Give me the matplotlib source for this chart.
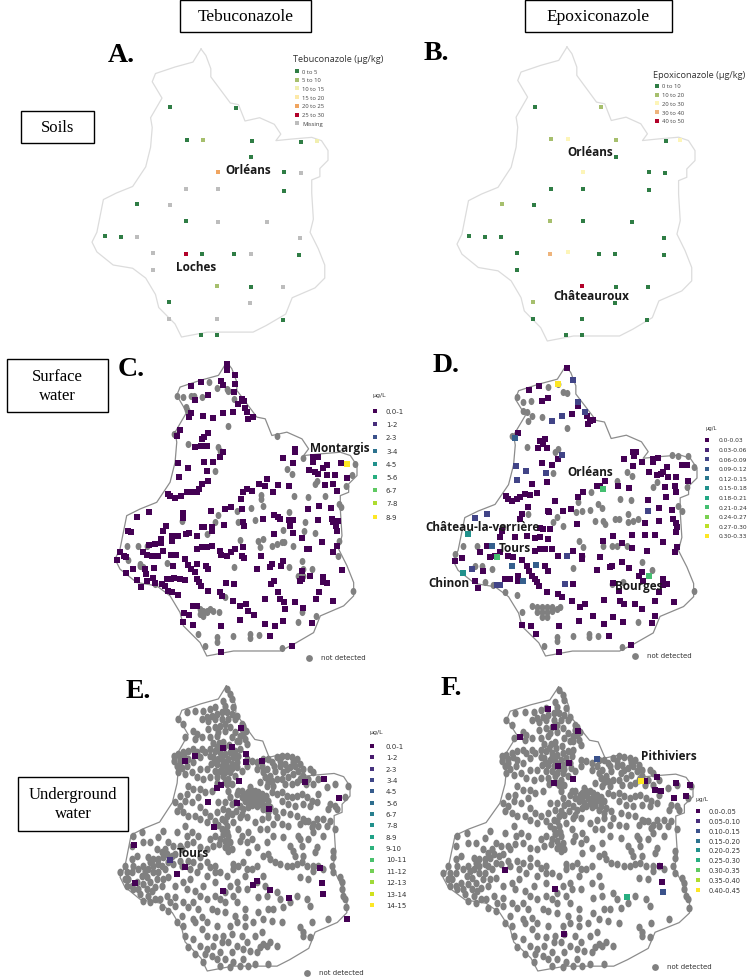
import matplotlib
matplotlib.use('Agg')
import matplotlib.pyplot as plt
from matplotlib.markers import MarkerStyle
from matplotlib.patches import Rectangle
from matplotlib.transforms import Affine2D

REGION = [(380,40),(395,60),(410,100),(410,125),(440,165),(470,205),(495,210),(515,260),(560,250),(605,270),(625,300),
          (610,320),(660,315),(720,310),(750,320),(770,350),(770,380),(745,405),(745,430),(720,440),(720,480),(725,560),
          (715,600),(740,650),(760,700),(760,740),(730,770),(660,800),(640,850),(580,885),(540,905),(470,905),(400,905),
          (320,920),(300,880),(250,830),(240,790),(210,740),(170,710),(110,700),(60,660),(45,630),(60,600),(80,500),
          (120,480),(170,460),(210,400),(225,340),(230,280),(225,250),(260,190),(230,140),(240,115),(300,95),(355,80),(380,40)]

SOIL_COLORS = ['#2f7d45', '#a6bf6d', '#f1efb0', '#fde9a8', '#f0a560', '#b2022a', '#bdbdbd']
SOIL_A_LABELS = ['0 to 5', '5 to 10', '10 to 15', '15 to 20', '20 to 25', '25 to 30', 'Missing']
SOIL_B_LABELS = ['0 to 10', '10 to 20', '20 to 30', '30 to 40', '40 to 50']
SOIL_B_COLORS = ['#2f7d45', '#a6bf6d', '#fdf5b8', '#eeb47c', '#b2022a']

A_POINTS = {
    0: [(241,235),(437,236),(290,332),(485,336),(632,338),(484,384),(582,429),(582,485),(141,526),(287,577),(44,622),
        (92,624),(335,675),(433,676),(628,677),(484,773),(236,820),(578,872),(333,919),(382,919)],
    1: [(338,332),(380,770)],
    2: [(680,335)],
    4: [(385,429)],
    5: [(287,675)],
    6: [(632,433),(288,480),(385,480),(239,527),(385,578),(532,579),(140,624),(629,628),(189,673),(482,676),(189,722),
        (578,774),(480,822),(236,869),(382,870)],
}
B_POINTS = {
    0: [(345,234),(737,337),(587,383),(686,428),(736,433),(392,479),(489,480),(686,484),(342,527),(489,577),(636,578),
        (147,622),(195,624),(243,624),(733,628),(292,673),(537,675),(586,676),(733,677),(291,722),(588,774),(683,775),
        (584,822),(339,870),(486,871),(682,872),(437,919),(486,919)],
    1: [(542,234),(393,331),(589,334),(245,526),(390,577),(339,820)],
    2: [(443,331),(781,334),(489,428),(443,670)],
    3: [(390,675)],
    4: [(485,770)],
}

C_LABELS = ['0.0-1', '1-2', '2-3', '3-4', '4-5', '5-6', '6-7', '7-8', '8-9']
D_LABELS = ['0.0-0.03', '0.03-0.06', '0.06-0.09', '0.09-0.12', '0.12-0.15', '0.15-0.18', '0.18-0.21', '0.21-0.24',
            '0.24-0.27', '0.27-0.30', '0.30-0.33']
E_LABELS = ['0.0-1', '1-2', '2-3', '3-4', '4-5', '5-6', '6-7', '7-8', '8-9', '9-10', '10-11', '11-12', '12-13',
            '13-14', '14-15']
F_LABELS = ['0.0-0.05', '0.05-0.10', '0.10-0.15', '0.15-0.20', '0.20-0.25', '0.25-0.30', '0.30-0.35', '0.35-0.40',
            '0.40-0.45']

C_GREY = [(232,140),(250,145),(272,140),(283,140),(305,145),(327,100),(352,118),(380,120),(385,125),(403,150),(258,175),
          (262,182),(383,230),(222,255),(265,285),(355,295),(360,305),(345,365),(530,262),(608,327),(560,360),(575,375),
          (652,395),(645,405),(738,410),(765,345),(755,378),(482,437),(482,450),(490,470),(582,442),(623,445),(675,440),
          (718,465),(722,475),(410,487),(452,478),(355,497),(345,520),(320,555),(245,515),(415,520),(465,512),(568,490),
          (615,518),(550,543),(613,545),(645,552),(420,572),(475,575),(490,570),(480,595),(515,590),(530,585),(545,580),
          (553,578),(578,590),(115,592),(140,592),(80,590),(85,632),(120,650),(128,655),(200,642),(403,655),(605,635),
          (610,660),(635,660),(567,655),(595,680),(610,680),(715,620),(718,575),(760,725),(375,745),(300,780),(310,785),
          (320,785),(330,780),(340,785),(300,795),(310,800),(320,790),(358,790),(605,790),(647,802),(595,818),(293,855),
          (315,890),(350,865),(352,880),(400,860),(450,855),(450,868),(477,858),(545,898),(165,705),(120,645)]
C_POINTS = {
    0: [(381,45),(381,62),(404,78),(404,105),(363,95),(368,108),(302,98),(272,110),(403,130),(325,138),(284,152),(425,150),
        (432,155),(415,165),(435,178),(440,190),(445,210),(458,205),(398,190),(370,192),(340,207),(310,200),(268,205),
        (272,192),(240,243),(232,260),(323,253),(313,265),(305,270),(322,290),(304,290),(285,295),(370,310),(360,325),
        (235,343),(311,338),(338,340),(265,358),(322,365),(238,385),(325,397),(305,405),(298,420),(290,430),(275,430),
        (260,428),(243,440),(225,448),(210,440),(205,435),(585,300),(585,308),(550,326),(580,343),(640,325),(655,323),
        (640,340),(722,342),(680,348),(670,358),(655,375),(645,370),(628,362),(680,378),(705,378),(742,388),(700,405),
        (675,408),(710,425),(500,390),(495,410),(478,405),(535,408),(568,412),(518,428),(455,425),(440,420),(430,430),
        (422,450),(658,470),(623,480),(692,476),(655,513),(697,510),(700,520),(715,515),(708,530),(710,545),(665,578),
        (712,590),(700,608),(725,662),(333,485),(375,480),(393,475),(427,480),(248,492),(248,508),(110,505),(148,490),
        (428,520),(433,530),(372,528),(305,535),(312,535),(335,535),(335,545),(198,530),(188,545),(183,570),(183,582),
        (215,560),(215,575),(235,562),(258,555),(268,553),(290,562),(85,545),(92,550),(488,510),(523,497),(535,505),
        (540,510),(568,512),(578,512),(570,530),(578,552),(522,556),(605,567),(620,600),(628,600),(165,585),(148,588),
        (128,608),(140,618),(155,620),(175,620),(190,605),(60,610),(50,632),(72,620),(78,625),(212,618),(228,618),
        (290,600),(305,595),(320,593),(335,590),(360,605),(362,618),(380,620),(392,610),(405,600),(430,595),(425,620),
        (432,628),(482,620),(255,630),(265,648),(272,660),(285,670),(290,690),(298,700),(302,710),(292,645),(318,650),
        (325,660),(220,650),(162,657),(100,660),(135,660),(138,675),(78,672),(160,688),(200,690),(212,690),(222,688),
        (240,690),(255,692),(112,692),(140,697),(165,703),(185,705),(195,712),(203,725),(215,728),(233,737),(122,715),
        (470,660),(510,655),(515,645),(550,635),(542,650),(605,665),(630,680),(605,690),(600,695),(523,695),(513,705),
        (378,703),(403,705),(668,685),(668,700),(680,703),(323,725),(360,730),(365,742),(535,730),(657,730),(648,750),
        (700,757),(495,750),(540,750),(552,760),(555,780),(585,760),(608,778),(400,757),(420,770),(437,765),(443,785),
        (462,797),(278,772),(292,772),(252,792),(268,798),(278,828),(248,820),(363,830),(420,813),(495,825),(525,830),
        (550,817),(510,860),(637,822),(575,890),(362,910)],
    8: [(741,345)],
}

D_GREY = [(415,105),(430,130),(442,133),(310,185),(320,190),(335,200),(365,205),(325,215),(440,238),(275,260),(320,293),
          (415,300),(405,310),(398,372),(620,370),(635,382),(590,395),(710,400),(700,415),(800,415),(822,355),(755,318),
          (775,320),(805,322),(512,430),(535,465),(545,478),(600,450),(633,453),(775,470),(785,485),(475,460),(485,487),
          (468,490),(510,482),(525,515),(548,515),(555,525),(585,510),(598,510),(625,495),(625,520),(640,515),(655,510),
          (430,532),(410,505),(400,520),(325,495),(250,535),(478,575),(488,595),(548,590),(575,590),(590,590),(665,640),
          (697,662),(620,590),(130,590),(170,590),(105,615),(165,650),(185,650),(215,660),(195,700),(220,708),(460,657),
          (575,705),(610,700),(290,738),(255,730),(335,772),(350,775),(365,775),(380,775),(395,775),(350,790),(365,790),
          (380,790),(395,785),(365,805),(380,805),(410,780),(420,775),(305,790),(485,620),(822,725),(655,820),(460,860),
          (508,855),(508,865),(535,860),(410,865),(410,875),(372,890),(605,895),(290,145),(308,160),(333,155),(385,115)]
D_POINTS = {
    0: [(440,58),(358,110),(328,122),(385,148),(365,155),(475,170),(455,195),(500,200),(510,215),(518,212),(505,225),
        (295,253),(375,270),(360,275),(370,285),(355,298),(382,297),(415,330),(397,347),(367,343),(640,310),(648,310),
        (643,322),(612,330),(640,352),(665,338),(700,330),(715,328),(698,340),(785,348),(800,348),(687,368),(710,378),
        (722,375),(730,368),(740,355),(745,385),(767,385),(735,415),(765,410),(768,430),(803,395),(555,395),(530,412),
        (540,412),(595,410),(627,418),(335,405),(380,400),(350,432),(330,438),(315,435),(300,445),(290,450),(275,455),
        (265,450),(258,442),(490,430),(475,445),(683,452),(738,445),(405,457),(325,475),(305,495),(300,510),(385,485),
        (388,490),(430,485),(452,480),(718,478),(755,483),(717,517),(675,522),(758,510),(768,522),(770,535),(768,550),
        (472,525),(360,538),(368,540),(390,540),(320,560),(345,568),(360,565),(385,570),(245,545),(240,565),(285,565),
        (548,575),(580,560),(675,558),(705,558),(637,557),(728,580),(605,583),(635,598),(680,605),(770,595),(765,610),
        (200,590),(180,608),(210,625),(225,620),(240,610),(345,605),(360,600),(375,600),(395,600),(415,620),(460,605),
        (487,620),(487,630),(540,625),(105,635),(125,628),(265,622),(280,625),(305,632),(320,650),(328,665),(335,680),
        (345,690),(352,700),(358,710),(375,652),(385,665),(165,695),(175,717),(190,667),(255,690),(270,690),(295,680),
        (295,695),(530,662),(570,655),(575,650),(605,640),(628,657),(665,668),(658,680),(668,695),(728,690),(730,708),
        (740,705),(718,730),(578,703),(380,728),(415,735),(425,745),(460,705),(457,757),(480,775),(495,765),(553,752),
        (597,725),(600,755),(612,765),(645,765),(665,780),(705,757),(763,758),(705,802),(520,800),(478,815),(332,830),
        (305,827),(348,855),(418,832),(552,825),(610,818),(580,805),(697,822),(568,860),(418,910),(633,887)],
    2: [(460,92),(475,160),(495,190),(425,202),(397,215),(288,350),(318,367),(378,372),(292,392),(425,318),(683,485),
        (165,507),(200,495),(440,620),(155,660),(232,707),(240,707),(435,705)],
    3: [(285,268),(215,590),(349,647),(275,652),(310,697)],
    5: [(145,555),(130,672)],
    7: [(550,420),(688,682),(230,625)],
    10: [(415,105)],
}

WELLS = [(380,60),(390,75),(395,90),(370,95),(375,110),(400,115),(345,115),(330,120),(310,125),(285,125),(260,130),(235,150),
         (250,165),(320,145),(335,140),(350,135),(365,130),(380,130),(395,135),(410,140),(425,165),(425,180),(430,195),
         (435,210),(440,225),(420,200),(405,150),(385,150),(365,150),(345,150),(325,155),(305,150),(360,170),(345,175),
         (325,180),(280,185),(290,195),(255,205),(285,210),(305,205),(330,205),(350,200),(375,185),(390,175),(405,190),
         (395,205),(410,215),(222,260),(235,255),(250,250),(265,245),(280,240),(222,275),(240,280),(265,270),(280,280),
         (300,265),(315,250),(330,240),(345,245),(360,250),(375,255),(390,250),(405,245),(420,240),(340,265),(355,270),
         (370,275),(385,270),(400,265),(415,260),(350,285),(365,290),(380,295),(395,285),(410,280),(360,305),(375,310),
         (390,310),(345,305),(320,300),(300,300),(275,310),(255,315),(235,310),(290,325),(310,330),(330,325),(350,325),
         (385,330),(405,320),(425,305),(440,290),(455,275),(470,300),(485,290),(500,300),(515,280),(530,265),(545,260),
         (560,262),(575,265),(590,270),(600,285),(585,290),(570,295),(555,285),(540,290),(525,305),(510,320),(495,325),
         (480,340),(530,330),(550,310),(565,325),(580,315),(595,305),(610,300),(555,345),(575,345),(590,340),(610,320),
         (625,330),(640,345),(655,330),(640,310),(520,350),(500,350),(445,370),(455,365),(465,365),(475,370),(485,375),
         (445,385),(460,385),(475,385),(490,390),(505,395),(435,395),(450,400),(465,400),(480,405),(495,410),(510,415),
         (525,425),(420,410),(430,420),(445,415),(410,375),(425,365),(515,370),(530,375),(545,370),(560,380),(575,385),
         (590,380),(605,375),(620,385),(635,395),(650,400),(545,395),(565,405),(585,410),(610,405),(630,410),(655,375),
         (680,355),(705,345),(690,405),(705,410),(685,420),(710,420),(735,385),(745,350),(380,345),(385,365),(390,385),
         (395,405),(375,400),(385,425),(395,435),(370,420),(355,400),(350,430),(365,450),(380,470),(365,480),(370,495),
         (385,500),(375,515),(390,520),(395,540),(375,535),(360,510),(345,500),(415,365),(400,460),(415,480),(420,445),
         (440,445),(425,500),(445,490),(465,460),(485,450),(505,445),(530,445),(550,430),(570,435),(590,440),(610,450),
         (625,455),(640,465),(655,470),(670,450),(690,455),(705,480),(480,480),(500,480),(520,465),(545,465),(565,470),
         (420,515),(440,520),(455,510),(505,555),(510,570),(470,535),(445,550),(430,580),(415,590),(400,600),(570,530),
         (580,545),(585,560),(550,505),(600,510),(625,510),(650,535),(645,550),(540,585),(560,590),(575,590),(590,585),
         (605,580),(620,590),(640,590),(600,625),(625,630),(640,605),(700,545),(700,565),(695,590),(720,625),(725,660),
         (730,680),(738,715),(225,400),(230,425),(240,380),(240,410),(255,395),(250,430),(265,440),(285,440),(265,350),
         (280,360),(300,360),(315,370),(335,365),(295,385),(275,400),(260,375),(300,415),(315,430),(330,440),(300,450),
         (320,460),(345,455),(255,470),(230,490),(275,490),(295,500),(330,510),(340,530),(320,540),(300,535),(280,520),
         (260,525),(245,540),(190,485),(205,520),(220,530),(195,540),(175,505),(150,520),(125,490),(130,520),(100,500),
         (95,530),(110,560),(95,570),(75,590),(60,610),(80,610),(95,610),(85,630),(80,650),(115,600),(130,590),(145,565),
         (160,570),(175,570),(190,565),(160,590),(145,600),(125,620),(140,625),(160,610),(175,610),(185,590),(205,580),
         (220,585),(240,575),(265,575),(280,580),(300,590),(320,580),(345,590),(360,610),(320,620),(290,610),(270,630),
         (250,640),(225,650),(205,625),(190,630),(170,630),(150,640),(130,645),(165,655),(185,650),(120,675),(145,680),
         (165,690),(180,690),(200,680),(225,685),(260,660),(285,665),(310,650),(345,640),(390,650),(410,640),(435,620),
         (455,600),(470,590),(490,620),(415,660),(440,660),(400,680),(410,700),(345,680),(320,690),(280,700),(250,700),
         (225,710),(205,725),(245,740),(280,750),(305,745),(335,720),(350,725),(375,700),(375,730),(405,740),(435,720),
         (435,745),(435,770),(475,685),(500,680),(530,670),(550,715),(520,720),(490,750),(515,755),(545,760),(630,710),
         (685,750),(635,760),(600,775),(610,800),(630,805),(530,830),(510,820),(490,825),(485,790),(465,800),(425,800),
         (395,795),(370,800),(345,805),(320,800),(285,760),(250,770),(230,760),(255,800),(280,810),(285,855),(315,855),
         (335,860),(350,870),(310,880),(400,880),(420,890),(445,890),(465,885),(505,885),(430,840),(450,845),(480,835),
         (385,820),(365,820),(340,830),(320,840),
         # second pass over the crowded parts of the crop
         (430,170),(438,185),(418,215),(375,165),(355,190),(340,222),(358,222),(372,235),(388,228),(352,235),(368,218),
         (240,268),(252,262),(230,290),(245,298),(262,290),(290,250),(305,240),(330,262),(345,280),(362,262),(378,282),
         (395,298),(412,295),(332,285),(368,320),(375,340),(395,345),(352,342),(440,270),(470,280),(490,270),(505,270),
         (522,290),(540,275),(560,300),(578,278),(545,330),(505,338),(490,310),(515,335),(600,330),(618,345),(630,300),
         (450,355),(438,375),(455,375),(468,392),(482,395),(497,382),(455,408),(472,412),(490,420),(505,430),(425,385),
         (405,400),(408,425),(425,435),(380,440),(375,455),(355,468),(372,490),(382,488),(358,525),(382,530),(385,545),
         (170,540),(185,550),(200,555),(215,560),(175,585),(195,600),(150,580),(135,605),(100,590),(110,640),(95,650),
         (75,630),(155,665),(140,660),(115,660),(240,530),(262,500),(225,555),(245,590),(270,600),(300,565),(330,595),
         (345,610),(380,620),(400,585),(490,560),(525,580),(610,560),(655,590),(670,600),(700,610),(725,640),(735,690),
         (615,455),(600,465),(635,475),(650,450),(680,470),(670,500),(640,490),(605,530),(595,500),(520,500),(500,520),
         (440,600),(470,640),(495,650),(375,670),(360,690),(300,680),(265,715),(295,720),(320,760),(305,780),(350,770),
         (390,770),(410,760),(460,760),(475,730),(505,720),(540,690),(570,700),(590,680),(620,690),(470,850),(440,820),
         (410,830),(395,850),(375,870),(360,850),(300,830),(265,835),(360,890),(390,895),(430,870),(500,830),(610,790),
         (210,700),(185,715),(150,700),(130,695),(100,660)]
E_POINTS = {
    0: [(422,178),(368,238),(397,235),(437,255),(438,280),(286,260),(255,277),(485,275),(418,335),(363,348),(352,358),
        (615,340),(672,330),(718,387),(323,399),(412,403),(506,420),(342,475),(101,527),(255,593),(232,615),(104,642),
        (660,596),(665,642),(668,675),(458,647),(471,637),(511,662),(369,665),(568,686),(740,750)],
    2: [(210,573)],
}
F_POINTS = {
    0: [(355,120),(373,175),(445,187),(269,205),(384,290),(417,283),(429,330),(371,343),(680,323),(645,337),(738,343),
        (779,348),(675,362),(693,366),(733,386),(768,382),(689,592),(695,640),(226,603),(376,661),(401,794)],
    2: [(500,270),(699,670)],
    5: [(590,684)],
    8: [(633,335)],
}

HEADERS = [('Tebuconazole', 180, 311, 1, 33, 12.5), ('Epoxiconazole', 525, 672, 1, 33, 12.5),
           ('Soils', 21, 94, 112, 144, 12), ('Surface\nwater', 7, 108, 360, 413, 12),
           ('Underground\nwater', 18, 128, 778, 832, 12)]
LETTERS = [('A.', 108, 56), ('B.', 424, 54), ('C.', 118, 370), ('D.', 433, 366), ('E.', 126, 692), ('F.', 441, 689)]
TOWNS = [('Orléans', 248, 171), ('Loches', 196, 268), ('Orléans', 590, 152), ('Châteauroux', 591, 297),
         ('Montargis', 340, 449), ('Orléans', 590, 473), ('Château-la-verrière', 482, 528), ('Tours', 515, 549),
         ('Chinon', 449, 584), ('Bourges', 639, 587), ('Tours', 193, 854), ('Pithiviers', 669, 757)]

# both mark shapes are a bit taller than wide in the reference
SQUARE = MarkerStyle('s', transform=Affine2D().scale(0.85, 1.05))
DOT = MarkerStyle('o', transform=Affine2D().scale(0.85, 1.05))

fig = plt.figure(figsize=(7.52, 9.79), dpi=100)
ax = fig.add_axes([0, 0, 1, 1])
ax.set_xlim(0, 752)
ax.set_ylim(979, 0)
ax.axis('off')

rx0, rx1 = min(p[0] for p in REGION), max(p[0] for p in REGION)
ry0, ry1 = min(p[1] for p in REGION), max(p[1] for p in REGION)


def outline(box, color, lw):
    x0, x1, y0, y1 = box
    xs = [x0 + (p[0]-rx0)*(x1-x0)/(rx1-rx0) for p in REGION]
    ys = [y0 + (p[1]-ry0)*(y1-y0)/(ry1-ry0) for p in REGION]
    ax.plot(xs, ys, color=color, lw=lw, zorder=1)


def crop(pts, off):
    return [p[0]/3+off[0] for p in pts], [p[1]/3+off[1] for p in pts]


def soil_panel(points, off, colors, box, legend, title, lx, ly):
    outline(box, '#dcdcdc', 0.9)
    for k, pts in points.items():
        xs, ys = crop(pts, off)
        ax.scatter(xs, ys, marker='s', s=11, color=colors[k], lw=0, zorder=3)
    ax.text(lx-4, ly-12, title, fontsize=6.6, family='Open Sans', color='#333333', va='center')
    for i, lab in enumerate(legend):
        y = ly + i*8.7
        ax.scatter([lx], [y], marker='s', s=11, color=colors[i], lw=0, zorder=3)
        ax.text(lx+5.5, y, lab, fontsize=4.2, family='Open Sans', color='#444444', va='center')


def water_panel(points, grey, off, box, labels, lx, ly, dy, tx, size, nd, square=21, dot=24):
    outline(box, '#8c8c8c', 0.9)
    n = len(labels)
    cols = [plt.cm.viridis(i/(n-1)) for i in range(n)]
    xs, ys = grey
    ax.scatter(xs, ys, marker=DOT, s=dot, color='#808080', lw=0, zorder=2)
    for k, pts in points.items():
        xs, ys = crop(pts, off)
        ax.scatter(xs, ys, marker=SQUARE, s=square, color=cols[k], lw=0, zorder=3)
    ax.text(lx+4, ly-dy-3, 'µg/L', fontsize=size-0.5, color='#333333', va='center', ha='center')
    for i, lab in enumerate(labels):
        y = ly + i*dy
        ax.scatter([lx], [y], marker='s', s=11, color=cols[i], lw=0, zorder=3)
        ax.text(tx, y, lab, fontsize=size, color='#333333', va='center')
    ax.scatter([nd[0]], [nd[1]], marker='o', s=24, color='#808080', lw=0, zorder=3)
    ax.text(nd[0]+12, nd[1]-1, 'not detected', fontsize=5, color='#333333', va='center')


soil_panel(A_POINTS, (90, 30), SOIL_COLORS, (92, 328, 50, 338), SOIL_A_LABELS, 'Tebuconazole (µg/kg)', 297, 72)
soil_panel(B_POINTS, (420, 30), SOIL_B_COLORS, (457, 695, 48, 342), SOIL_B_LABELS, 'Epoxiconazole (µg/kg)', 657, 87)

water_panel(C_POINTS, crop(C_GREY, (100, 350)), (100, 350), (115, 357, 363, 657), C_LABELS, 375, 412, 13.2, 386, 5,
            (309, 659))
water_panel(D_POINTS, crop(D_GREY, (420, 350)), (420, 350), (453, 697, 367, 657), D_LABELS, 707, 441, 9.6, 719, 4.3,
            (635, 657))
ewx, ewy = crop(WELLS, (100, 670))
water_panel(E_POINTS, (ewx, ewy), (100, 670), (120, 350, 687, 972), E_LABELS, 372, 747, 11.35, 386, 5, (307, 974),
            dot=28)
# F shows the same wells, a little wider on the page
fwx = [443 + (x-120)*250/230 for x in ewx]
fwy = [688 + (y-687)*284/285 for y in ewy]
water_panel(F_POINTS, (fwx, fwy), (430, 670), (443, 693, 688, 972), F_LABELS, 698, 812, 9.85, 709, 4.8, (655, 968),
            dot=28)

for txt, x0, x1, y0, y1, fs in HEADERS:
    ax.add_patch(Rectangle((x0, y0), x1-x0, y1-y0, fc='white', ec='black', lw=1, zorder=5))
    ax.text((x0+x1)/2, (y0+y1)/2, txt, fontsize=fs, family='Liberation Serif', ha='center', va='center', zorder=6,
            linespacing=1.25)
for txt, x, y in LETTERS:
    ax.text(x, y, txt, fontsize=20, family='Liberation Serif', weight='bold', va='center', zorder=6)
for txt, x, y in TOWNS:
    ax.text(x, y, txt, fontsize=8.5, family='Open Sans', weight='bold', color='#1a1a1a', ha='center', va='center',
            zorder=6)

fig.savefig('out.png', dpi=100)
